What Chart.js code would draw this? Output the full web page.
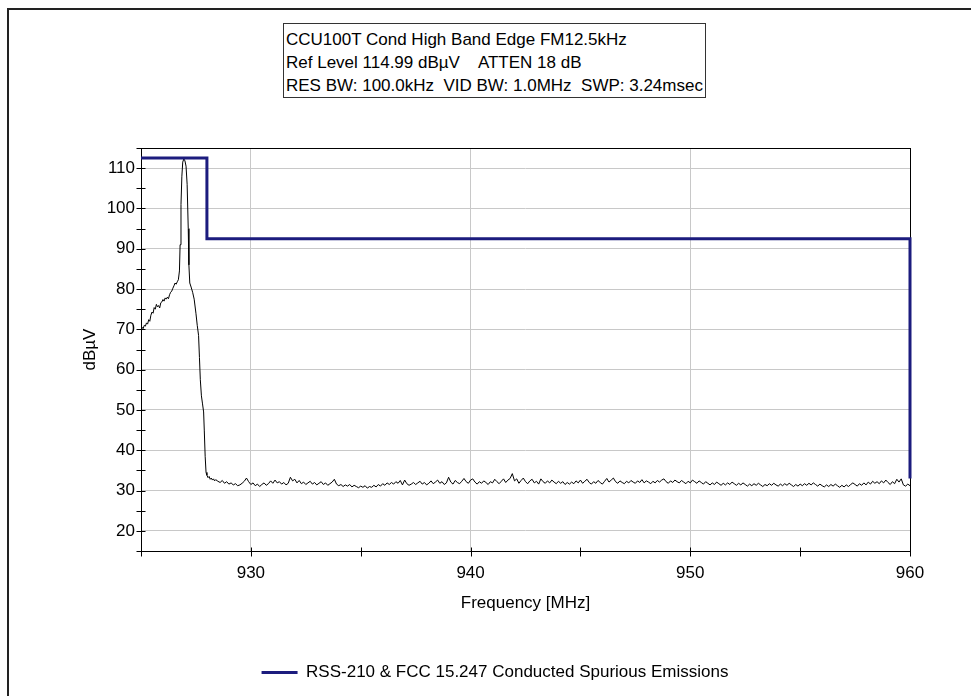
<!DOCTYPE html>
<html>
<head>
<meta charset="utf-8">
<script src="https://cdn.jsdelivr.net/npm/chart.js@4.4.1/dist/chart.umd.min.js"></script>
<style>
    body { margin: 0; background: #fff; }
    #frame {
        position: absolute; left: 7px; top: 8px; right: -10px; bottom: -10px;
        border-left: 2px solid #222; border-top: 2px solid #222;
    }
    #wrap { position: absolute; left: 0; top: 0; width: 971px; height: 696px; }
    #info {
        position: absolute; left: 283px; top: 23px;
        border: 1px solid #333; background: #fff;
        padding: 4px 2px 0 2px;
        font: 17px "Liberation Sans", Arial, sans-serif; line-height: 23px;
        white-space: nowrap; color: #000;
    }
</style>
</head>
<body>
<div id="frame"></div>
<div id="wrap"><canvas id="spectrumChart"></canvas></div>
<div id="info">
    CCU100T Cond High Band Edge FM12.5kHz<br>
    Ref Level 114.99 dBµV &nbsp;&nbsp; ATTEN 18 dB<br>
    RES BW: 100.0kHz &nbsp;VID BW: 1.0MHz &nbsp;SWP: 3.24msec
</div>
<script>
// Axis ranges
const freqMin = 925, freqMax = 960;
const levelMin = 15, levelMax = 115;

// Limit line (RSS-210 & FCC 15.247)
const limitFreqs = [925, 928, 928, 960, 960];
const limitLevels = [112.5, 112.5, 92.5, 92.5, 33];

// Carrier and its skirt, read point by point
const skirtFreqs = [925.00, 925.05, 925.10, 925.15, 925.20, 925.25, 925.30, 925.35, 925.40, 925.45,
    925.50, 925.55, 925.60, 925.65, 925.70, 925.75, 925.80, 925.85, 925.90, 925.95,
    926.00, 926.05, 926.10, 926.15, 926.20, 926.25, 926.30, 926.35, 926.40, 926.45,
    926.50, 926.55, 926.60, 926.65, 926.70, 926.75, 926.78, 926.82, 926.86, 926.90,
    926.95, 927.00, 927.05, 927.10, 927.15, 927.18, 927.22, 927.28, 927.35, 927.42,
    927.50, 927.56, 927.62, 927.66, 927.70, 927.75, 927.80, 927.85, 927.88, 927.92,
    927.96, 928.00, 928.05, 928.10, 928.15, 928.20, 928.25, 928.30, 928.35, 928.40];
const skirtLevels = [69.0, 70.5, 70.2, 71.0, 70.8, 71.6, 71.3, 72.4, 72.0, 73.5,
    74.3, 74.0, 75.4, 75.0, 76.2, 75.6, 75.9, 75.3, 76.6, 76.8,
    77.4, 77.0, 77.8, 77.5, 78.0, 77.6, 78.6, 79.2, 79.5, 80.2,
    80.8, 81.5, 81.2, 81.8, 82.3, 84.5, 91.0, 101.0, 108.0, 111.5,
    112.3, 111.8, 110.5, 106.0, 95.0, 86.0, 81.5, 80.5, 79.2, 77.5,
    74.0, 71.0, 68.5, 63.0, 57.5, 53.5, 51.5, 49.5, 45.0, 38.5,
    34.5, 33.8, 33.2, 33.5, 32.8, 33.1, 32.6, 32.9, 32.4, 32.7];

// Noise floor, one reading every 0.1 MHz from 928.5 MHz
const floorStart = 928.5, floorStep = 0.1;
const floorLevels = [
    32.3, 32.0, 32.5, 31.8, 32.2, 31.6, 31.9, 31.4, 31.7, 31.2,
    31.4, 31.8, 32.3, 33.1, 32.2, 31.5, 31.9, 31.2, 31.6, 31.0,
    31.5, 31.9, 31.3, 31.7, 32.4, 31.8, 32.6, 31.9, 32.2, 31.6,
    32.0, 31.4, 31.8, 33.3, 32.4, 32.8, 31.9, 32.5, 31.7, 32.1,
    31.5, 31.9, 32.3, 31.6, 32.0, 31.4, 31.8, 32.2, 31.5, 31.9,
    31.3, 31.7, 32.1, 32.8, 31.6, 31.2, 31.5, 31.0, 31.4, 31.1,
    31.5, 30.9, 31.3, 31.0, 30.7, 31.1, 30.8, 31.2, 30.6, 31.0,
    30.8, 31.3, 30.9, 31.5, 31.1, 31.7, 31.3, 31.9, 31.5, 32.0,
    31.6, 32.2, 31.8, 32.5, 31.4, 32.6, 31.7, 31.3, 31.6, 32.0,
    31.5, 31.9, 32.3, 31.6, 32.0, 31.4, 31.8, 32.4, 31.7, 32.1,
    32.6, 31.8, 32.2, 31.5, 31.9, 33.3, 32.1, 31.6, 32.5, 32.0,
    31.7, 32.3, 33.0, 32.2, 31.8, 32.6, 32.9, 32.1, 31.6, 32.2,
    31.8, 32.4, 32.0, 31.5, 32.2, 31.9, 32.8, 32.2, 31.7, 32.3,
    32.9, 32.0, 32.6, 33.0, 34.2, 32.4, 32.9, 31.8, 32.5, 33.1,
    32.2, 31.7, 32.4, 32.8, 31.9, 32.3, 31.6, 32.9, 32.2, 31.8,
    32.4, 31.9, 32.6, 32.1, 31.7, 32.3, 31.8, 32.2, 31.5, 32.0,
    31.6, 32.1, 31.7, 32.4, 31.9, 32.6, 31.8, 32.3, 32.8, 32.0,
    31.6, 32.2, 31.8, 32.5, 32.0, 31.6, 32.3, 33.0, 32.1, 32.6,
    33.1, 32.2, 31.8, 32.4, 32.0, 31.7, 32.3, 31.9, 32.5, 32.1,
    31.8, 32.4, 32.0, 32.7, 31.9, 32.4, 32.1, 31.7, 32.3, 31.9,
    32.5, 32.1, 32.6, 32.9, 32.2, 31.8, 32.4, 32.0, 32.6, 32.2,
    31.9, 32.5, 32.1, 31.7, 32.3, 31.9, 32.6, 32.2, 31.8, 32.4,
    32.0, 31.6, 32.2, 31.8, 31.4, 31.9, 31.5, 32.1, 31.7, 31.3,
    31.8, 31.4, 31.9, 31.5, 32.1, 31.7, 31.3, 31.8, 31.4, 31.9,
    31.5, 31.1, 31.6, 31.2, 31.7, 31.3, 31.8, 31.4, 31.0, 31.5,
    31.2, 31.7, 31.3, 31.8, 31.4, 31.1, 31.6, 31.2, 31.7, 31.3,
    31.8, 31.4, 31.0, 31.5, 31.1, 31.6, 31.2, 31.7, 31.3, 31.8,
    31.4, 31.9, 31.5, 31.1, 31.6, 31.2, 30.9, 31.4, 31.0, 31.5,
    31.1, 31.6, 31.2, 30.8, 31.3, 30.9, 31.4, 31.0, 31.5, 31.9,
    31.5, 31.1, 31.7, 31.3, 31.9, 31.4, 32.1, 31.6, 32.3, 31.8,
    32.2, 31.7, 32.4, 31.9, 32.6, 32.0, 31.5, 32.2, 31.7, 32.8,
    32.1, 32.9, 31.4, 31.1, 31.6, 31.2];

const limitLabel = 'RSS-210 & FCC 15.247 Conducted Spurious Emissions';
const xTitle = 'Frequency [MHz]';
const yTitle = 'dBµV';

document.addEventListener('DOMContentLoaded', function() {
    Chart.defaults.font.family = '"Liberation Sans", Arial, sans-serif';
    Chart.defaults.font.size = 17;
    Chart.defaults.color = '#000';

    const limitData = limitFreqs.map((f, i) => ({ x: f, y: limitLevels[i] }));
    const traceData = skirtFreqs.map((f, i) => ({ x: f, y: skirtLevels[i] }));
    floorLevels.forEach((v, i) => {
        traceData.push({ x: +(floorStart + i * floorStep).toFixed(2), y: v });
    });

    // frame round the plot and tick marks crossing the axes
    const axisFrame = {
        id: 'axisFrame',
        beforeDatasetsDraw(chart) {
            const { ctx, chartArea: a, scales: { x, y } } = chart;
            const L = Math.round(a.left) + 0.5, R = Math.round(a.right) + 0.5;
            const T = Math.round(a.top) + 0.5, B = Math.round(a.bottom) + 0.5;
            ctx.save();
            ctx.strokeStyle = '#000';
            ctx.lineWidth = 1;
            ctx.strokeRect(L, T, R - L, B - T);
            ctx.beginPath();
            x.ticks.forEach(t => {
                const px = Math.round(x.getPixelForValue(t.value)) + 0.5;
                ctx.moveTo(px, B - 4);
                ctx.lineTo(px, B + 5);
            });
            y.ticks.forEach(t => {
                const py = Math.round(y.getPixelForValue(t.value)) + 0.5;
                ctx.moveTo(L - 5, py);
                ctx.lineTo(L + 4, py);
            });
            ctx.stroke();
            ctx.restore();
        }
    };

    const gridColor = ctx => (ctx.tick && ctx.tick.value % 10 === 0) ? '#c8c8c8' : 'rgba(0,0,0,0)';

    const ctx = document.getElementById('spectrumChart').getContext('2d');
    new Chart(ctx, {
        type: 'line',
        data: {
            datasets: [{
                label: limitLabel,
                data: limitData,
                borderColor: '#1c1c7e',
                backgroundColor: '#1c1c7e',
                borderWidth: 3,
                pointRadius: 0,
                tension: 0,
                clip: false
            }, {
                label: 'trace',
                data: traceData,
                borderColor: '#000',
                borderWidth: 1,
                pointRadius: 0,
                tension: 0
            }]
        },
        options: {
            responsive: true,
            maintainAspectRatio: false,
            animation: false,
            layout: { padding: { left: 80, right: 61, top: 148, bottom: 5 } },
            scales: {
                x: {
                    type: 'linear',
                    min: freqMin,
                    max: freqMax,
                    afterFit: s => { s.height = 103; },
                    ticks: {
                        stepSize: 5,
                        autoSkip: false,
                        maxRotation: 0,
                        padding: 12,
                        callback: v => v % 10 === 0 ? v : ''
                    },
                    grid: { color: gridColor, drawTicks: false },
                    border: { display: false },
                    title: { display: true, text: xTitle, padding: { top: 0, bottom: 40 } }
                },
                y: {
                    min: levelMin,
                    max: levelMax,
                    afterFit: s => { s.width = 61; },
                    ticks: {
                        stepSize: 5,
                        autoSkip: false,
                        padding: 6,
                        callback: v => v % 10 === 0 ? v : ''
                    },
                    grid: { color: gridColor, drawTicks: false },
                    border: { display: false },
                    title: { display: true, text: yTitle, padding: { top: 0, bottom: 0 } }
                }
            },
            plugins: {
                legend: {
                    position: 'bottom',
                    labels: {
                        usePointStyle: true,
                        pointStyle: 'line',
                        pointStyleWidth: 36,
                        padding: 10,
                        filter: item => item.datasetIndex === 0
                    }
                },
                tooltip: { enabled: false }
            }
        },
        plugins: [axisFrame]
    });
});
</script>
</body>
</html>
